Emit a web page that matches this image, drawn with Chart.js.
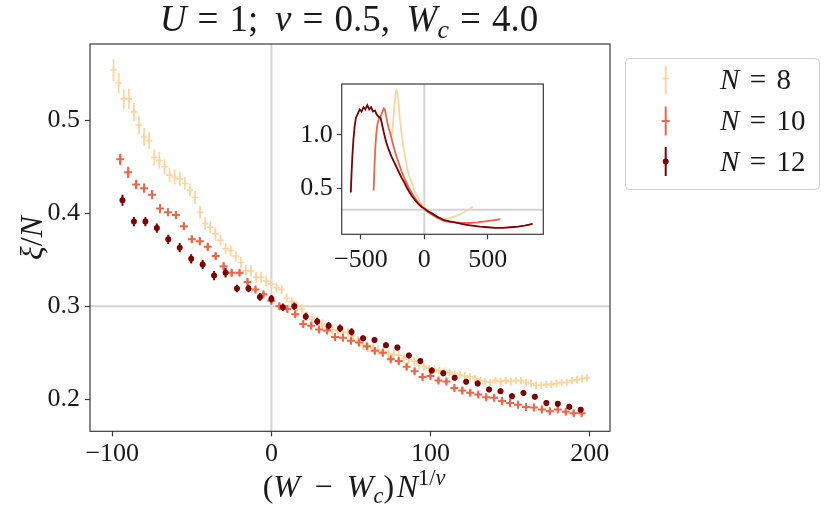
<!DOCTYPE html>
<html><head><meta charset="utf-8">
<script src="https://cdn.jsdelivr.net/npm/chart.js@4.4.1/dist/chart.umd.min.js"></script>
<style>
html,body{margin:0;padding:0;background:#fff;}
#wrap{position:relative;width:830px;height:517px;background:#fff;}
canvas{position:absolute;left:0;top:0;}
</style></head><body>
<div id="wrap"><canvas id="main" width="830" height="517"></canvas><canvas id="inset" width="830" height="517"></canvas></div>
<script>
// ---------- tick labels ----------
const xTicksMain = [-100, 0, 100, 200];
const xTickLabelsMain = ['\u2212100', '0', '100', '200'];
const yTicksMain = [0.2, 0.3, 0.4, 0.5];
const yTickLabelsMain = ['0.2', '0.3', '0.4', '0.5'];
const xTicksInset = [-500, 0, 500];
const xTickLabelsInset = ['\u2212500', '0', '500'];
const yTicksInset = [0.5, 1.0];
const yTickLabelsInset = ['0.5', '1.0'];
const refX = 0;        // vertical reference line
const refY = 0.3;      // horizontal reference line
const sizesN = ['8', '10', '12'];

// ---------- main panel: N = 8 ----------
const n8X = [-99.2,-96,-92.8,-89.6,-86.4,-83.2,-80,-76.8,-73.6,-70.4,-67.2,-64,-60.8,-57.6,-54.4,-51.2,-48,-44.8,-41.6,-38.4,-35.2,-32,-28.8,-25.6,-22.4,-19.2,-16,-12.8,-9.6,-6.4,-3.2,0,3.2,6.4,9.6,12.8,16,19.2,22.4,25.6,28.8,32,35.2,38.4,41.6,44.8,48,51.2,54.4,57.6,60.8,64,67.2,70.4,73.6,76.8,80,83.2,86.4,89.6,92.8,96,99.2,102.4,105.6,108.8,112,115.2,118.4,121.6,124.8,128,131.2,134.4,137.6,140.8,144,147.2,150.4,153.6,156.8,160,163.2,166.4,169.6,172.8,176,179.2,182.4,185.6,188.8,192,195.2,198.4];
const n8Y = [0.554,0.540,0.523,0.523,0.509,0.495,0.482,0.478,0.460,0.457,
0.450,0.441,0.439,0.437,0.432,0.425,0.417,0.401,0.389,0.385,
0.378,0.371,0.362,0.360,0.354,0.347,0.338,0.338,0.331,0.331,
0.327,0.324,0.320,0.318,0.309,0.305,0.300,0.297,0.289,0.286,
0.284,0.281,0.278,0.275,0.274,0.272,0.272,0.268,0.263,0.258,
0.256,0.255,0.253,0.251,0.249,0.248,0.247,0.244,0.243,0.241,
0.238,0.235,0.233,0.232,0.231,0.230,0.229,0.227,0.226,0.225,
0.224,0.222,0.220,0.219,0.218,0.220,0.219,0.220,0.219,0.220,
0.220,0.218,0.217,0.215,0.215,0.216,0.216,0.217,0.218,0.218,
0.220,0.221,0.222,0.223];
const n8Err = [0.012,0.011,0.011,0.011,0.010,0.010,0.010,0.009,0.009,0.009,
0.008,0.008,0.008,0.008,0.007,0.007,0.007,0.007,0.007,0.007,
0.007,0.006,0.006,0.006,0.006,0.006,0.006,0.006,0.006,0.006,
0.006,0.005,0.005,0.005,0.005,0.005,0.005,0.005,0.005,0.005,
0.005,0.005,0.005,0.005,0.005,0.005,0.005,0.005,0.005,0.005,
0.005,0.005,0.005,0.005,0.005,0.005,0.005,0.005,0.005,0.005,
0.005,0.004,0.004,0.004,0.004,0.004,0.004,0.004,0.004,0.004,
0.004,0.004,0.004,0.004,0.004,0.004,0.004,0.004,0.004,0.004,
0.004,0.004,0.004,0.004,0.004,0.004,0.004,0.004,0.004,0.004,
0.004,0.004,0.004,0.004];

// ---------- main panel: N = 10 ----------
const n10X = [-95,-90,-85,-80,-75,-70,-65,-60,-55,-50,-45,-40,-35,-30,-25,-20,-15,-10,-5,0,5,10,15,20,25,30,35,40,45,50,55,60,65,70,75,80,85,90,95,100,105,110,115,120,125,130,135,140,145,150,155,160,165,170,175,180,185,190,195];
const n10Y = [0.458,0.444,0.431,0.427,0.420,0.405,0.401,0.398,0.386,0.372,
0.370,0.364,0.354,0.343,0.336,0.336,0.326,0.318,0.313,0.306,
0.300,0.297,0.2915,0.281,0.279,0.275,0.274,0.267,0.266,0.263,
0.261,0.257,0.252,0.250,0.243,0.241,0.235,0.230,0.224,0.225,
0.220,0.219,0.212,0.2095,0.207,0.205,0.202,0.2015,0.198,0.196,
0.194,0.1915,0.191,0.189,0.187,0.189,0.1865,0.185,0.185];
const n10Err = [0.006,0.006,0.005,0.005,0.005,0.005,0.004,0.004,0.004,0.004,
0.004,0.004,0.004,0.004,0.004,0.003,0.003,0.003,0.003,0.003,
0.003,0.003,0.003,0.003,0.003,0.003,0.003,0.003,0.003,0.003,
0.003,0.003,0.003,0.003,0.003,0.003,0.003,0.003,0.003,0.003,
0.003,0.003,0.003,0.003,0.003,0.003,0.003,0.003,0.003,0.003,
0.003,0.003,0.003,0.003,0.003,0.003,0.003,0.003,0.003];

// ---------- main panel: N = 12 ----------
const n12X = [-93.6,-86.4,-79.2,-72,-64.8,-57.6,-50.4,-43.2,-36,-28.8,-21.6,-14.4,-7.2,0,7.2,14.4,21.6,28.8,36,43.2,50.4,57.6,64.8,72,79.2,86.4,93.6,100.8,108,115.2,122.4,129.6,136.8,144,151.2,158.4,165.6,172.8,180,187.2,194.4];
const n12Y = [0.414,0.391,0.391,0.384,0.372,0.363,0.351,0.345,0.333,0.336,
0.319,0.319,0.310,0.308,0.299,0.300,0.289,0.2835,0.279,0.2764,
0.2724,0.2656,0.2636,0.258,0.2555,0.247,0.241,0.231,0.2278,0.2231,
0.2188,0.217,0.2105,0.2087,0.2033,0.2066,0.2026,0.1958,0.195,0.1918,0.1886];
const n12Err = [0.006,0.005,0.005,0.005,0.005,0.005,0.005,0.005,0.005,0.005,
0.004,0.004,0.004,0.004,0.004,0.004,0.004,0.004,0.004,0.004,0.004,
0.003,0.003,0.003,0.003,0.003,0.003,0.003,0.003,0.003,0.003,
0.003,0.003,0.003,0.003,0.003,0.003,0.003,0.003,0.003,0.003];

// ---------- inset curves ----------
const in8X = [-256,-248,-240,-232,-224,-218,-212,-205,-198,-190,-180,-170,-160,-150,-140,-130,-120,-110,-99,-80,-60,-40,-20,0,20,40,60,80,100,130,160,200,240,280,320,350,384];
const in8Y = [1.00,1.10,1.22,1.33,1.40,1.42,1.40,1.32,1.22,1.12,1.02,0.93,0.85,0.78,0.72,0.66,0.62,0.58,0.554,0.48,0.437,0.39,0.346,0.324,0.297,0.275,0.255,0.247,0.232,0.219,0.218,0.223,0.235,0.255,0.28,0.30,0.33];
const in10X = [-400,-395,-388,-380,-370,-360,-350,-340,-330,-320,-312,-305,-295,-285,-270,-255,-240,-220,-200,-180,-160,-140,-120,-100,-80,-60,-40,-20,0,25,50,75,100,130,160,195,240,300,360,420,480,540,600];
const in10Y = [0.48,0.65,0.85,1.00,1.10,1.15,1.16,1.19,1.22,1.25,1.24,1.20,1.14,1.08,1.02,0.95,0.88,0.80,0.73,0.66,0.60,0.55,0.50,0.46,0.42,0.385,0.355,0.33,0.306,0.28,0.262,0.243,0.225,0.21,0.193,0.185,0.18,0.175,0.175,0.18,0.19,0.20,0.21];
const in12X = [-580,-575,-568,-560,-550,-540,-525,-510,-495,-480,-465,-450,-435,-420,-405,-390,-375,-360,-345,-330,-315,-300,-280,-260,-240,-220,-200,-180,-160,-140,-120,-100,-80,-60,-40,-20,0,30,60,100,150,200,260,320,380,440,500,560,620,680,740,790,830,855];
const in12Y = [0.46,0.62,0.80,0.95,1.08,1.16,1.20,1.24,1.22,1.26,1.24,1.28,1.24,1.26,1.22,1.23,1.19,1.17,1.16,1.08,1.00,0.93,0.86,0.80,0.75,0.70,0.65,0.60,0.56,0.51,0.47,0.43,0.40,0.37,0.345,0.325,0.31,0.285,0.265,0.235,0.205,0.19,0.175,0.16,0.15,0.14,0.135,0.13,0.13,0.135,0.14,0.15,0.16,0.17];

// ---------- styles ----------
const C8 = '#fdd49e', C10 = '#ef6548', C12 = '#7f0000';
const SERIF = "'Liberation Serif', 'Times New Roman', serif";
const INK = '#1a1a1a', FRAME = '#3a3a3a', REF = '#d4d4d4';
const TICK_FONT = 26;

function pts(xs, ys) { return xs.map((x, i) => ({ x: x, y: ys[i] })); }

function drawRich(ctx, parts, x, y, size, align) {
  const items = parts.map(p => {
    if (typeof p === 'number') return { gap: p * size };
    const t = p[0], s = p[1];
    let fs = size, dy = 0, it = false;
    if (s === 'i') it = true;
    if (s === 'sub') { fs = size * 0.7; dy = size * 0.2; it = true; }
    if (s === 'sup') { fs = size * 0.7; dy = -size * 0.38; }
    if (s === 'supi') { fs = size * 0.7; dy = -size * 0.38; it = true; }
    return { t, fs, dy, it };
  });
  let w = 0;
  items.forEach(o => {
    if (o.gap !== undefined) { o.w = o.gap; }
    else { ctx.font = (o.it ? 'italic ' : '') + o.fs + 'px ' + SERIF; o.w = ctx.measureText(o.t).width; }
    w += o.w;
  });
  let cx = align === 'center' ? x - w / 2 : (align === 'right' ? x - w : x);
  ctx.textBaseline = 'alphabetic'; ctx.textAlign = 'left'; ctx.fillStyle = INK;
  items.forEach(o => {
    if (o.t) { ctx.font = (o.it ? 'italic ' : '') + o.fs + 'px ' + SERIF; ctx.fillText(o.t, cx, y + o.dy); }
    cx += o.w;
  });
}

const errorBars = {
  id: 'errorBars',
  beforeDatasetDraw(chart, args) {
    const ds = chart.data.datasets[args.index];
    if (!ds.err) return;
    const ctx = chart.ctx, xs = chart.scales.x, ys = chart.scales.y;
    ctx.save();
    ctx.strokeStyle = ds.pointBorderColor; ctx.lineWidth = ds.errWidth;
    ctx.beginPath();
    ds.data.forEach((p, i) => {
      const px = xs.getPixelForValue(p.x);
      ctx.moveTo(px, ys.getPixelForValue(p.y - ds.err[i]));
      ctx.lineTo(px, ys.getPixelForValue(p.y + ds.err[i]));
    });
    ctx.stroke(); ctx.restore();
  }
};

const refLines = {
  id: 'refLines',
  beforeDatasetsDraw(chart) {
    const ctx = chart.ctx, a = chart.chartArea, xs = chart.scales.x, ys = chart.scales.y;
    ctx.save();
    ctx.beginPath(); ctx.rect(a.left, a.top, a.right - a.left, a.bottom - a.top); ctx.clip();
    ctx.strokeStyle = REF; ctx.lineWidth = 2;
    const px = xs.getPixelForValue(refX), py = ys.getPixelForValue(refY);
    ctx.beginPath(); ctx.moveTo(px, a.top); ctx.lineTo(px, a.bottom); ctx.stroke();
    ctx.beginPath(); ctx.moveTo(a.left, py); ctx.lineTo(a.right, py); ctx.stroke();
    ctx.restore();
  }
};

const frame = {
  id: 'frame',
  beforeDraw(chart, args, opts) {
    if (opts && opts.fill) {
      const a = chart.chartArea, ctx = chart.ctx;
      ctx.save(); ctx.fillStyle = '#fff'; ctx.fillRect(a.left, a.top, a.right - a.left, a.bottom - a.top); ctx.restore();
    }
  },
  afterDatasetsDraw(chart) {
    const a = chart.chartArea, ctx = chart.ctx;
    ctx.save(); ctx.strokeStyle = FRAME; ctx.lineWidth = 1.2;
    ctx.strokeRect(a.left, a.top, a.right - a.left, a.bottom - a.top);
    ctx.restore();
  }
};

const texts = {
  id: 'texts',
  afterDraw(chart) {
    const ctx = chart.ctx;
    ctx.save();
    // title
    drawRich(ctx, [['U','i'],0.3,['=','r'],0.3,['1;','r'],0.45,['\u03bd','i'],0.3,['=','r'],0.3,['0.5,','r'],0.45,['W','i'],['c','sub'],0.3,['=','r'],0.3,['4.0','r']], 349, 31, 37, 'center');
    // x label
    drawRich(ctx, [['(','r'],['W','i'],0.45,['\u2212','r'],0.45,['W','i'],['c','sub'],[')','r'],0.08,['N','i'],['1/','sup'],['\u03bd','supi']], 354, 497, 32, 'center');
    // y label
    ctx.save(); ctx.translate(42, 238); ctx.rotate(-Math.PI / 2);
    drawRich(ctx, [['\u03be','i'],['/','r'],['N','i']], 0, 0, 32, 'center');
    ctx.restore();
    // legend box
    const bx = 625.5, by = 58.5, bw = 194, bh = 131, r = 4;
    ctx.beginPath();
    ctx.moveTo(bx + r, by); ctx.lineTo(bx + bw - r, by); ctx.quadraticCurveTo(bx + bw, by, bx + bw, by + r);
    ctx.lineTo(bx + bw, by + bh - r); ctx.quadraticCurveTo(bx + bw, by + bh, bx + bw - r, by + bh);
    ctx.lineTo(bx + r, by + bh); ctx.quadraticCurveTo(bx, by + bh, bx, by + bh - r);
    ctx.lineTo(bx, by + r); ctx.quadraticCurveTo(bx, by, bx + r, by); ctx.closePath();
    ctx.fillStyle = '#fff'; ctx.fill(); ctx.strokeStyle = '#d0d0d0'; ctx.lineWidth = 1; ctx.stroke();
    const cys = [80, 121, 161.5], cols = [C8, C10, C12], sx = 665.7;
    cys.forEach((cy, i) => {
      ctx.strokeStyle = cols[i]; ctx.fillStyle = cols[i];
      ctx.lineWidth = 2;
      ctx.beginPath(); ctx.moveTo(sx, cy - 14.5); ctx.lineTo(sx, cy + 14.5); ctx.stroke();
      if (i < 2) {
        const rr = i === 0 ? 3.3 : 4;
        ctx.lineWidth = i === 0 ? 1.6 : 2;
        ctx.beginPath(); ctx.moveTo(sx - rr, cy - (i === 0 ? 1.5 : 0)); ctx.lineTo(sx + rr, cy - (i === 0 ? 1.5 : 0)); ctx.stroke();
      } else {
        ctx.beginPath(); ctx.arc(sx, cy, 3, 0, Math.PI * 2); ctx.fill();
      }
      drawRich(ctx, [['N','i'],0.36,['=','r'],0.36,[sizesN[i],'r']], 720, cy + 9, 29, 'left');
    });
    ctx.restore();
  }
};

function tickCfg(labels, values, pad) {
  return {
    autoSkip: false, maxRotation: 0, minRotation: 0, padding: pad, color: INK,
    font: { family: SERIF, size: TICK_FONT },
    callback: (v) => { const k = values.indexOf(v); return k >= 0 ? labels[k] : ''; }
  };
}
const gridCfg = { display: true, drawOnChartArea: false, drawTicks: true, tickLength: 5, tickColor: FRAME, tickWidth: 1.2 };

new Chart(document.getElementById('main'), {
  type: 'scatter',
  data: {
    datasets: [
      { label: 'N = 8', data: pts(n8X, n8Y), err: n8Err, errWidth: 1.7, pointStyle: 'cross', pointRadius: 3.3, pointBorderWidth: 1.6, pointBorderColor: C8, pointBackgroundColor: C8, order: 3 },
      { label: 'N = 10', data: pts(n10X, n10Y), err: n10Err, errWidth: 2, pointStyle: 'cross', pointRadius: 4, pointBorderWidth: 2, pointBorderColor: C10, pointBackgroundColor: C10, order: 2 },
      { label: 'N = 12', data: pts(n12X, n12Y), err: n12Err, errWidth: 2, pointStyle: 'circle', pointRadius: 3, pointBorderWidth: 0, pointBorderColor: C12, pointBackgroundColor: C12, order: 1 }
    ]
  },
  options: {
    responsive: false, animation: false, devicePixelRatio: 1,
    layout: { padding: { left: 0, top: 44, right: 220, bottom: 0 } },
    plugins: { legend: { display: false }, tooltip: { enabled: false }, title: { display: false } },
    scales: {
      x: { type: 'linear', min: -114, max: 212.8,
        afterFit(s) { s.height = 85.7; },
        afterBuildTicks(s) { s.ticks = xTicksMain.map(v => ({ value: v })); },
        ticks: tickCfg(xTickLabelsMain, xTicksMain, 2), grid: gridCfg, border: { display: false } },
      y: { type: 'linear', min: 0.1655, max: 0.582,
        afterFit(s) { s.width = 90; },
        afterBuildTicks(s) { s.ticks = yTicksMain.map(v => ({ value: v })); },
        ticks: tickCfg(yTickLabelsMain, yTicksMain, 5), grid: gridCfg, border: { display: false } }
    }
  },
  plugins: [refLines, errorBars, frame, texts]
});

new Chart(document.getElementById('inset'), {
  type: 'line',
  data: {
    datasets: [
      { label: 'N = 8', data: pts(in8X, in8Y), borderColor: C8, borderWidth: 1.8, pointRadius: 0, tension: 0, fill: false, order: 3 },
      { label: 'N = 10', data: pts(in10X, in10Y), borderColor: C10, borderWidth: 1.8, pointRadius: 0, tension: 0, fill: false, order: 2 },
      { label: 'N = 12', data: pts(in12X, in12Y), borderColor: C12, borderWidth: 1.8, pointRadius: 0, tension: 0, fill: false, order: 1 }
    ]
  },
  options: {
    responsive: false, animation: false, devicePixelRatio: 1,
    layout: { padding: { left: 0, top: 84, right: 286.7, bottom: 0 } },
    plugins: { legend: { display: false }, tooltip: { enabled: false }, title: { display: false }, frame: { fill: true } },
    scales: {
      x: { type: 'linear', min: -652, max: 939,
        afterFit(s) { s.height = 282.7; },
        afterBuildTicks(s) { s.ticks = xTicksInset.map(v => ({ value: v })); },
        ticks: tickCfg(xTickLabelsInset, xTicksInset, 5), grid: gridCfg, border: { display: false } },
      y: { type: 'linear', min: 0.069, max: 1.478,
        afterFit(s) { s.width = 341.7; },
        afterBuildTicks(s) { s.ticks = yTicksInset.map(v => ({ value: v })); },
        ticks: tickCfg(yTickLabelsInset, yTicksInset, 4), grid: gridCfg, border: { display: false } }
    }
  },
  plugins: [frame, refLines]
});
</script>
</body></html>
